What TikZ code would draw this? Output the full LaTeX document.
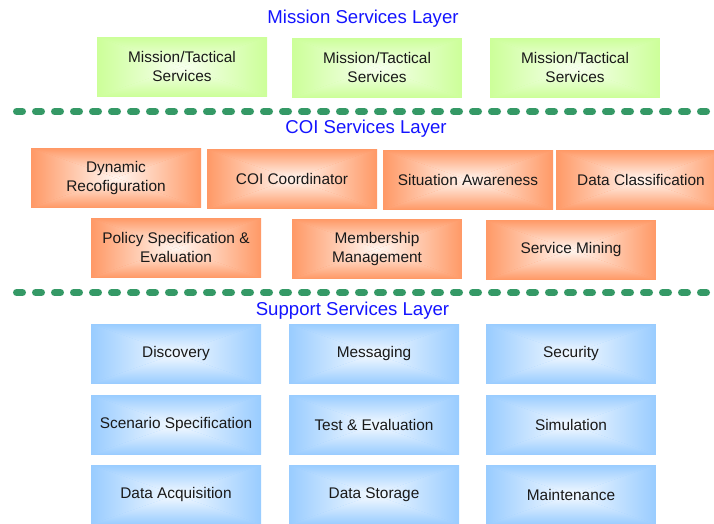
\documentclass[tikz,border=0pt]{standalone}
\usepackage{fontspec}
\setmainfont{Liberation Sans}
\usetikzlibrary{calc}

\definecolor{grnedge}{RGB}{204,255,153}
\definecolor{grnmid}{RGB}{248,255,240}
\definecolor{orgedge}{RGB}{255,153,102}
\definecolor{orgmid}{RGB}{255,247,242}
\definecolor{bluedge}{RGB}{153,204,255}
\definecolor{blumid}{RGB}{245,250,255}
\definecolor{sepgreen}{RGB}{53,153,102}
\definecolor{titleblue}{RGB}{20,20,255}
\definecolor{boxtext}{RGB}{25,25,25}

% rectangular (pyramid) gradient: four triangles, edge colour -> centre colour
\tikzset{
  pyrfill/.style 2 args={
    fill=#1,
    path picture={
      \coordinate (pc) at ($(path picture bounding box.north west)!0.5!(path picture bounding box.south east)$);
      \shade[top color=#1,bottom color=#2,draw=none]
        (path picture bounding box.north west) -- (path picture bounding box.north east) -- (pc) -- cycle;
      \shade[bottom color=#1,top color=#2,draw=none]
        (path picture bounding box.south west) -- (path picture bounding box.south east) -- (pc) -- cycle;
      \shade[left color=#1,right color=#2,draw=none]
        (path picture bounding box.north west) -- (path picture bounding box.south west) -- (pc) -- cycle;
      \shade[right color=#1,left color=#2,draw=none]
        (path picture bounding box.north east) -- (path picture bounding box.south east) -- (pc) -- cycle;
    }},
  svcbox/.style={anchor=north west, inner sep=0pt, outer sep=0pt,
    minimum width=170pt, minimum height=59.5pt, align=center,
    text=boxtext, font=\fontsize{15.4}{19}\selectfont},
  missionbox/.style={svcbox, pyrfill={grnedge}{grnmid}},
  coibox/.style={svcbox, pyrfill={orgedge}{orgmid}},
  supportbox/.style={svcbox, pyrfill={bluedge}{blumid}},
  layertitle/.style={anchor=base, inner sep=0pt, text=titleblue,
    font=\fontsize{18.6}{22}\selectfont},
  separator/.style={draw=sepgreen, line width=7pt, line cap=round,
    dash pattern=on 6pt off 13pt},
}

\begin{document}
\begin{tikzpicture}[x=1pt,y=-1pt]
\useasboundingbox (0,0) rectangle (714,523);
\clip (0,0) rectangle (714,523);

% Mission services layer
\node[layertitle] (tmission) at (363,23) {Mission Services Layer};
\node[missionbox] (m1) at (97,37)  {Mission/Tactical\\Services};
\node[missionbox] (m2) at (292,38) {Mission/Tactical\\Services};
\node[missionbox] (m3) at (490,38) {Mission/Tactical\\Services};

% separators
\coordinate (s1a) at (16.5,111.5);
\coordinate (s1b) at (720,111.5);
\draw[separator] (s1a) -- (s1b);
\coordinate (s2a) at (16.5,292.5);
\coordinate (s2b) at (720,292.5);
\draw[separator] (s2a) -- (s2b);

% COI services layer
\node[layertitle] (tcoi) at (366,133) {COI Services Layer};
\node[coibox] (c1) at (31,148)  {Dynamic\\Recofiguration};
\node[coibox] (c2) at (207,149) {COI Coordinator};
\node[coibox] (c3) at (383,150) {Situation Awareness};
\node[coibox] (c4) at (556,150) {Data Classification};
\node[coibox] (c5) at (91,218)  {Policy Specification \&\\Evaluation};
\node[coibox] (c6) at (292,219) {Membership\\Management};
\node[coibox] (c7) at (486,220) {Service Mining};

% Support services layer
\node[layertitle] (tsup) at (352.5,315) {Support Services Layer};
\node[supportbox] (b1) at (91,324)  {Discovery};
\node[supportbox] (b2) at (289,324) {Messaging};
\node[supportbox] (b3) at (486,324) {Security};
\node[supportbox] (b4) at (91,395)  {Scenario Specification};
\node[supportbox] (b5) at (289,395) {Test \& Evaluation};
\node[supportbox] (b6) at (486,395) {Simulation};
\node[supportbox] (b7) at (91,465)  {Data Acquisition};
\node[supportbox] (b8) at (289,465) {Data Storage};
\node[supportbox] (b9) at (486,465) {Maintenance};
\end{tikzpicture}
\end{document}
